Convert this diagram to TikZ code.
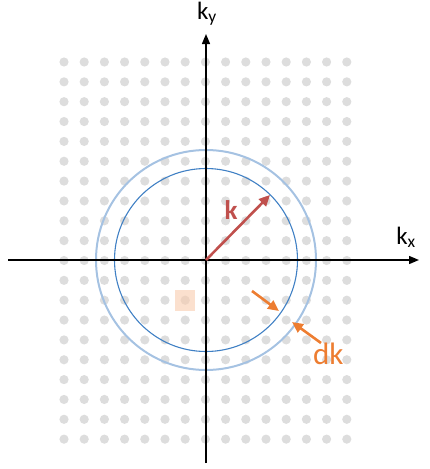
\documentclass[tikz,border=0pt]{standalone}
\usepackage{fontspec}
\setmainfont{Carlito}
\usetikzlibrary{arrows.meta}
\definecolor{dotgray}{HTML}{DDDDDD}
\definecolor{kred}{HTML}{C0504D}
\definecolor{dkorange}{HTML}{ED7D31}
\definecolor{outerblue}{HTML}{A5C2E2}
\definecolor{innerblue}{HTML}{4080C4}
\definecolor{sqorange}{HTML}{F8CBAD}
\tikzset{
  axis/.style={line width=1.4pt, -{Triangle[length=10pt,width=8pt]}},
  kvec/.style={kred, line width=2.6pt, -{Triangle[length=11pt,width=10pt]}},
  dkvec/.style={dkorange, line width=2.6pt, -{Triangle[length=11pt,width=10pt]}},
  lbl/.style={inner sep=0pt, font=\fontsize{25}{30}\selectfont},
}
\begin{document}
\begin{tikzpicture}[x=1pt,y=-1pt]
\useasboundingbox (0,0) rectangle (430,469);
% lattice of dots
\foreach \i in {0,...,14}{
  \foreach \j in {0,...,19}{
    \fill[dotgray] ({64+\i*20.2},{62+\j*19.85}) circle (4.6pt);
  }
}
% highlighted cell
\fill[sqorange, fill opacity=0.6] (175,290) rectangle (195,311);
% circles
\coordinate (O) at (206,260);
\draw[outerblue, line width=2pt] (O) circle (110pt);
\draw[innerblue, line width=1.1pt] (O) circle (91.5pt);
% axes
\coordinate (xl) at (8,260);
\coordinate (xr) at (419,260);
\coordinate (yb) at (206,463);
\coordinate (yt) at (206,34);
\draw[axis] (xl) -- (xr);
\draw[axis] (yb) -- (yt);
\node[lbl, anchor=south] (ky) at (207,26) {k\textsubscript{y}};
\node[lbl, anchor=south] (kx) at (406,248) {k\textsubscript{x}};
% k vector
\coordinate (ktip) at (270,195);
\draw[kvec] (O) -- (ktip);
\node[kred, inner sep=0pt, font=\fontsize{27}{30}\selectfont\bfseries] (klbl) at (231,210) {k};
% dk arrows
\coordinate (a1s) at (252,291);
\coordinate (a1e) at (279,311);
\coordinate (a2s) at (321,343);
\coordinate (a2e) at (292,322);
\draw[dkvec] (a1s) -- (a1e);
\draw[dkvec] (a2s) -- (a2e);
\node[dkorange, inner sep=0pt, anchor=south west, font=\fontsize{31}{34}\selectfont] (dk) at (313,365) {dk};
\end{tikzpicture}
\end{document}
